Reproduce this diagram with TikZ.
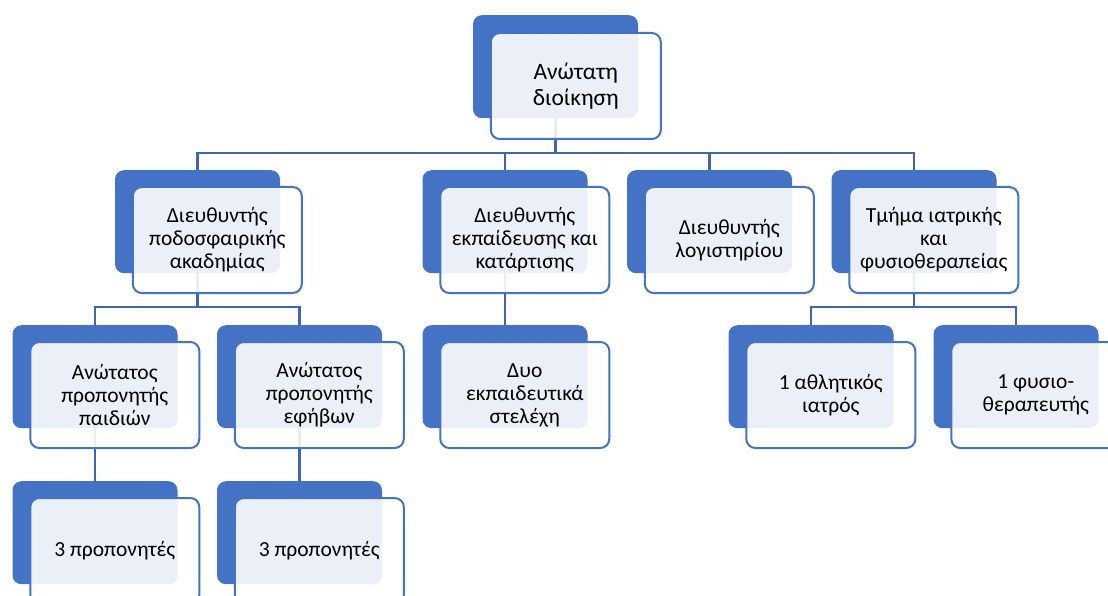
\documentclass[tikz,border=0pt]{standalone}
\usepackage{fontspec}
\setmainfont{Carlito}
\definecolor{accent}{HTML}{4472C4}
\definecolor{connc}{HTML}{3F66AE}
\tikzset{
  backbox/.style={fill=accent, draw=none, rounded corners=9pt, minimum width=165pt, minimum height=103pt, inner sep=0pt, anchor=north},
  frontbox/.style={draw=accent, line width=2pt, fill=white, fill opacity=0.89, text opacity=1, rounded corners=9pt, minimum width=169pt, minimum height=106pt, inner sep=2pt, anchor=north west, align=center, font=\fontsize{21.5}{23}\selectfont},
  bigtext/.style={font=\fontsize{23.5}{26}\selectfont},
  conn/.style={draw=connc, line width=2.6pt}
}
\begin{document}
\begin{tikzpicture}[x=1pt,y=-1pt]
\useasboundingbox (0,0) rectangle (1108,596);
\clip (0,0) rectangle (1108,596);
% back boxes
\node[backbox] (t) at (555.5,15) {};
\node[backbox] (a) at (197.5,170) {};
\node[backbox] (b) at (505,170) {};
\node[backbox] (c) at (709.5,170) {};
\node[backbox] (d) at (914,170) {};
\node[backbox] (a1) at (95,325) {};
\node[backbox] (a2) at (299.5,325) {};
\node[backbox] (b1) at (505,325) {};
\node[backbox] (d1) at (811,325) {};
\node[backbox] (d2) at (1016,325) {};
\node[backbox] (a1x) at (95,481) {};
\node[backbox] (a2x) at (299.5,481) {};
% connectors
\coordinate (bus1) at (555.5,153);
\coordinate (bus2) at (197.5,307);
\coordinate (bus3) at (914,307);
\draw[conn] (t.south) -- (bus1);
\draw[conn] (a.north) |- (bus1) -| (d.north);
\draw[conn] (b.north) -- (b.north |- bus1);
\draw[conn] (c.north) -- (c.north |- bus1);
\draw[conn] (a.south) -- (bus2);
\draw[conn] (a1.north) |- (bus2) -| (a2.north);
\draw[conn] (b.south) -- (b1.north);
\draw[conn] (d.south) -- (bus3);
\draw[conn] (d1.north) |- (bus3) -| (d2.north);
\draw[conn] (a1.south) -- (a1x.north);
\draw[conn] (a2.south) -- (a2x.north);
% front boxes
\node[frontbox, bigtext, minimum width=170pt] (tF) at ([xshift=17pt,yshift=-17pt]t.north west) {Ανώτατη\\διοίκηση};
\node[frontbox] (aF) at ([xshift=17pt,yshift=-16pt]a.north west) {Διευθυντής\\ποδοσφαιρικής\\ακαδημίας};
\node[frontbox] (bF) at ([xshift=17pt,yshift=-16pt]b.north west) {Διευθυντής\\εκπαίδευσης και\\κατάρτισης};
\node[frontbox] (cF) at ([xshift=17pt,yshift=-16pt]c.north west) {Διευθυντής\\λογιστηρίου};
\node[frontbox] (dF) at ([xshift=17pt,yshift=-16pt]d.north west) {Τμήμα ιατρικής\\και\\φυσιοθεραπείας};
\node[frontbox] (a1F) at ([xshift=17pt,yshift=-16pt]a1.north west) {Ανώτατος\\προπονητής\\παιδιών};
\node[frontbox] (a2F) at ([xshift=17pt,yshift=-16pt]a2.north west) {Ανώτατος\\προπονητής\\εφήβων};
\node[frontbox] (b1F) at ([xshift=17pt,yshift=-16pt]b1.north west) {Δυο\\εκπαιδευτικά\\στελέχη};
\node[frontbox] (d1F) at ([xshift=17pt,yshift=-16pt]d1.north west) {1 αθλητικός\\ιατρός};
\node[frontbox] (d2F) at ([xshift=17pt,yshift=-16pt]d2.north west) {1 φυσιο-\\θεραπευτής};
\node[frontbox] (a1xF) at ([xshift=17pt,yshift=-16pt]a1x.north west) {3 προπονητές};
\node[frontbox] (a2xF) at ([xshift=17pt,yshift=-16pt]a2x.north west) {3 προπονητές};
\end{tikzpicture}
\end{document}
